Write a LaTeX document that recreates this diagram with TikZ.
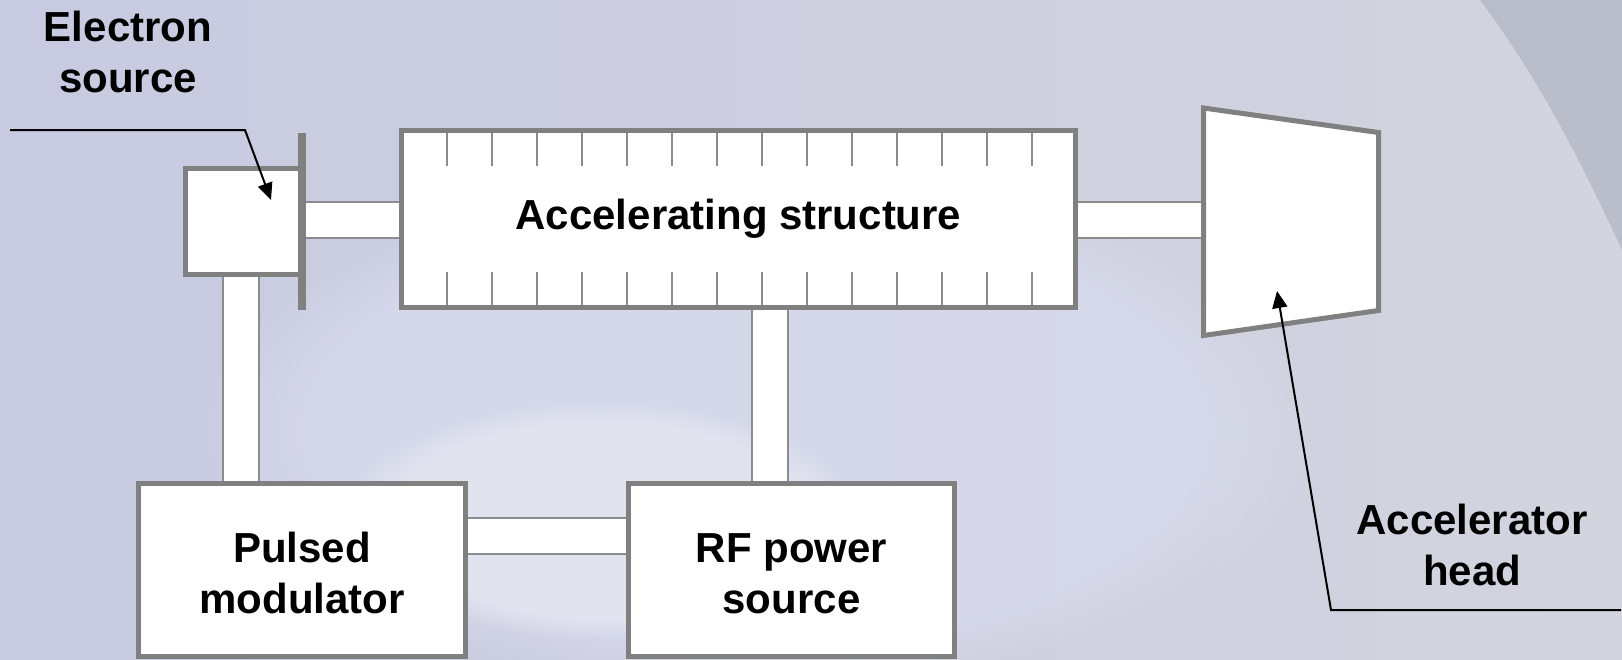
\documentclass[tikz,border=0pt]{standalone}
\usepackage{fontspec}
\setmainfont{Liberation Sans}
\usetikzlibrary{arrows.meta,fadings}
\definecolor{boxgray}{RGB}{128,128,128}
\definecolor{tubegray}{RGB}{140,140,140}
\definecolor{bgL}{RGB}{200,202,225}
\definecolor{bgM}{RGB}{216,219,236}
\definecolor{bgR}{RGB}{210,212,222}
\definecolor{bgDark}{RGB}{180,184,197}
\tikzset{
  blk/.style={draw=boxgray, line width=2.5pt, fill=white, inner sep=0pt, line join=miter,
              font=\bfseries\fontsize{21}{25.5}\selectfont, align=center},
  barblk/.style={fill=boxgray, draw=none, inner sep=0pt},
  tube/.style={draw=tubegray, line width=1pt, double=white, double distance=17pt},
  tickln/.style={draw=tubegray, line width=1pt},
  leader/.style={draw=black, line width=1pt, line join=miter, -{Triangle[length=8.5pt,width=7.5pt]}},
  lbl/.style={font=\bfseries\fontsize{21}{25.5}\selectfont, align=center, inner sep=0pt}
}
\begin{document}
\begin{tikzpicture}[x=0.5pt,y=-0.5pt]
\useasboundingbox (0,0) rectangle (1622,659);
% background
\fill[left color=bgL, right color=bgR] (0,0) rectangle (1622,659);
\fill[bgM, path fading=circle with fuzzy edge 20 percent, opacity=0.8] (760,430) ellipse (560 and 260);
\fill[white, path fading=circle with fuzzy edge 20 percent, opacity=0.3] (600,520) ellipse (260 and 120);
\fill[bgDark, opacity=0.8] (1480,0) .. controls (1540,80) and (1580,160) .. (1622,250) -- (1622,0) -- cycle;

% named helper coordinates
\coordinate (t3) at (241,0);
\coordinate (t4) at (770,0);
\coordinate (t5) at (0,536);

% blocks
\node[blk, minimum width=57.25pt, minimum height=53pt] (src) at (242.75,221.5) {};
\node[barblk, minimum width=4pt, minimum height=88.5pt] (bar) at (302,221.5) {};
\node[blk, minimum width=337pt, minimum height=88.5pt] (acc) at (738.5,219) {Accelerating structure};
\node[blk, minimum width=163.5pt, minimum height=86.25pt] (pm) at (302,569.75) {\rule{0pt}{18.3pt}Pulsed\\modulator};
\node[blk, minimum width=163pt, minimum height=86.25pt] (rf) at (791.5,569.75) {\rule{0pt}{18.3pt}RF power\\source};
\coordinate (hdtl) at (1203.5,108);
\coordinate (hdtr) at (1378.5,132.5);
\coordinate (hdbr) at (1378.5,310.5);
\coordinate (hdbl) at (1203.5,335.5);
\coordinate (hdw) at (1203.5,220);
\coordinate (hdt) at (1277,291);

% tubes (connectors)
\draw[tube] (bar.east |- hdw) -- (acc.west |- hdw);
\draw[tube] (acc.east |- hdw) -- (hdw);
\draw[tube] (src.south -| t3) -- (pm.north -| t3);
\draw[tube] (acc.south -| t4) -- (rf.north -| t4);
\draw[tube] (pm.east |- t5) -- (rf.west |- t5);

% redraw blocks over tube ends
\node[blk, minimum width=57.25pt, minimum height=53pt] at (src) {};
\node[barblk, minimum width=4pt, minimum height=88.5pt] at (bar) {};
\node[blk, minimum width=337pt, minimum height=88.5pt] at (acc) {Accelerating structure};
\node[blk, minimum width=163.5pt, minimum height=86.25pt] at (pm) {\rule{0pt}{18.3pt}Pulsed\\modulator};
\node[blk, minimum width=163pt, minimum height=86.25pt] at (rf) {\rule{0pt}{18.3pt}RF power\\source};
\draw[blk] (hdtl) -- (hdtr) -- (hdbr) -- (hdbl) -- cycle;

% cavity ticks
\foreach \k in {0,...,13} {
  \draw[tickln] (447+45*\k,133) -- (447+45*\k,166);
  \draw[tickln] (447+45*\k,272) -- (447+45*\k,305);
}

% labels and leaders
\node[lbl] (elab) at (128,52) {Electron\\source};
\node[lbl] (hlab) at (1472,545) {Accelerator\\head};
\coordinate (eL) at (10,130);
\coordinate (eK) at (245,130);
\coordinate (eT) at (271,200);
\draw[leader] (eL) -- (eK) -- (eT);
\coordinate (hR) at (1621,610);
\coordinate (hK) at (1331,610);
\draw[leader] (hR) -- (hK) -- (hdt);
\end{tikzpicture}
\end{document}
